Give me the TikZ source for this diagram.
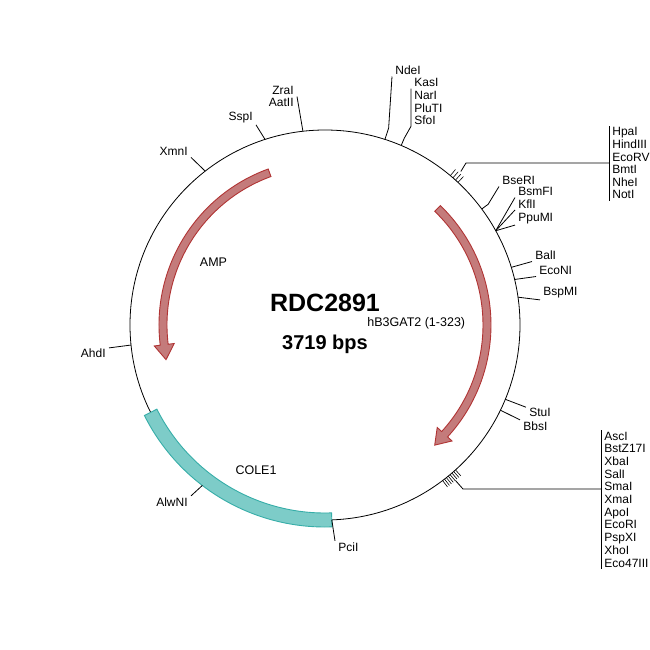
\documentclass[tikz,border=0pt]{standalone}
\usepackage{fontspec}
\setmainfont{Liberation Sans}
\usetikzlibrary{calc,positioning}
\definecolor{featfill}{HTML}{C47B7B}
\definecolor{featline}{HTML}{B03434}
\definecolor{orifill}{HTML}{7DCCC8}
\definecolor{oriline}{HTML}{36ADA8}
\newcommand\sitefont{\fontsize{12}{12.6}\selectfont}
\newcommand\featfont{\fontsize{12.5}{14}\selectfont}
\begin{document}
\begin{tikzpicture}[x=1pt,y=1pt,line width=0.8pt,
	site/.style={font=\sitefont,inner xsep=3pt,inner ysep=1pt},
	feat/.style={font=\featfont,inner sep=0pt},
	featarrow/.style={draw=featline,fill=featfill,line width=0.9pt,line join=miter},
	oriband/.style={draw=oriline,fill=orifill,line width=0.9pt}]
	\useasboundingbox (-325,-325) rectangle (325,325);
	\draw (0,0) circle (195);
	% features
	\draw[featarrow] (110:166) arc[start angle=110,end angle=187,radius=166] -- (187:172)
		-- (192.3:162.7) -- (187:152) -- (187:158) arc[start angle=187,end angle=110,radius=158] -- cycle;
	\draw[featarrow] (46:166) arc[start angle=46,end angle=-42.4,radius=166] -- (-42.4:172)
		-- (-47.6:162.7) -- (-42.4:152) -- (-42.4:158) arc[start angle=-42.4,end angle=46,radius=158] -- cycle;
	\draw[oriband] (206.6:202) arc[start angle=206.6,end angle=272,radius=202] -- (272:188)
		arc[start angle=272,end angle=206.6,radius=188] -- cycle;
	\node[feat,anchor=base] (amp) at (-111.5,58) {AMP};
	\node[feat,anchor=base] (cole) at (-69,-149) {COLE1};
	\node[feat,anchor=base west] (gat) at (42,-1.7) {hB3GAT2 (1-323)};
	\node[anchor=base,inner sep=0pt,font=\fontsize{25}{28}\selectfont\bfseries] (name) at (0,13) {RDC2891};
	\node[anchor=base,inner sep=0pt,font=\fontsize{20}{24}\selectfont\bfseries] (size) at (0,-25) {3719 bps};
	% cutting sites
	\coordinate (xmn) at (127.9:195);
	\coordinate (ssp) at (107.9:195);
	\coordinate (zra) at (96.5:195);
	\coordinate (nde) at (72.1:195);
	\coordinate (kas) at (67:195);
	\coordinate (bse) at (36.5:195);
	\coordinate (bsm) at (28.9:195);
	\coordinate (bal) at (17.2:195);
	\coordinate (econ) at (13.5:195);
	\coordinate (bsp) at (8.2:195);
	\coordinate (stu) at (-22.4:195);
	\coordinate (bbs) at (-25.9:195);
	\coordinate (pci) at (-88:195);
	\coordinate (alw) at (232.6:202);
	\coordinate (ahd) at (185.9:195);
	\node[site,anchor=base east] (xmnLbl) at (-134,169) {XmnI};
	\node[site,anchor=base east] (sspLbl) at (-69,204) {SspI};
	\node[site,anchor=base east] (zraLbl) at (-28,230) {ZraI};
	\node[site,anchor=base east] (aatLbl) at (-28,218) {AatII};
	\node[site,anchor=base west] (ndeLbl) at (67,250) {NdeI};
	\foreach \n [count=\i from 0] in {KasI,NarI,PluTI,SfoI}
		\node[site,anchor=base west] (kasLbl\i) at (86,238-12.6*\i) {\n};
	\node[site,anchor=base west] (bseLbl) at (174,140) {BseRI};
	\foreach \n [count=\i from 0] in {BsmFI,KflI,PpuMI}
		\node[site,anchor=base west] (bsmLbl\i) at (190,129-12.6*\i) {\n};
	\node[site,anchor=base west] (balLbl) at (207,65) {BalI};
	\node[site,anchor=base west] (econLbl) at (211,50) {EcoNI};
	\node[site,anchor=base west] (bspLbl) at (215,29) {BspMI};
	\node[site,anchor=base west] (stuLbl) at (201,-92) {StuI};
	\node[site,anchor=base west] (bbsLbl) at (195,-105) {BbsI};
	\node[site,anchor=base west] (pciLbl) at (10,-226) {PciI};
	\node[site,anchor=base east] (alwLbl) at (-134,-181) {AlwNI};
	\node[site,anchor=base east] (ahdLbl) at (-216,-33) {AhdI};
	\foreach \n [count=\i from 0] in {HpaI,HindIII,EcoRV,BmtI,NheI,NotI}
		\node[site,anchor=base west] (hpaLbl\i) at (284,189-12.6*\i) {\n};
	\foreach \n [count=\i from 0] in {AscI,BstZ17I,XbaI,SalI,SmaI,XmaI,ApoI,EcoRI,PspXI,XhoI,Eco47III}
		\node[site,anchor=base west] (ascLbl\i) at (276,-115-12.7*\i) {\n};
	\draw (xmn) -- (xmnLbl.south east);
	\draw (ssp) -- (sspLbl.south east);
	\draw (zra) -- (zraLbl.south east);
	\draw (nde) -- ++(72:12) -- (ndeLbl.south west);
	\draw (kas) -- ++(67:8) -- (kasLbl3.south west) -- (kasLbl0.south west);
	\draw (bse) -- ++(36.5:8) -- (bseLbl.south west);
	\foreach \i in {0,1,2}
		\draw (bsm) -- (bsmLbl\i.south west);
	\draw (bal) -- (balLbl.south west);
	\draw (econ) -- (econLbl.south west);
	\draw (bsp) -- (bspLbl.south west);
	\draw (stu) -- (stuLbl.north west);
	\draw (bbs) -- (bbsLbl.north west);
	\draw (pci) -- (pciLbl.north west);
	\draw (alw) -- (alwLbl.north east);
	\draw (ahd) -- (ahdLbl.north east);
	% site clusters
	\foreach \a in {47,48,49,50}
		\draw[line width=0.6pt] (\a:195) -- (\a:203);
	\coordinate (hpaJoint) at (141,162);
	\draw (48.5:205) -- (hpaJoint) -- (hpaLbl0.west |- hpaJoint);
	\draw (hpaLbl0.north west) -- (hpaLbl5.south west);
	\foreach \a in {-48,-48.7,...,-53}
		\draw[line width=0.6pt] (\a:195) -- (\a:203);
	\coordinate (ascJoint) at (138,-164);
	\draw (-50:203) -- (ascJoint) -- (ascLbl0.west |- ascJoint);
	\draw (ascLbl0.north west) -- (ascLbl10.south west);
\end{tikzpicture}
\end{document}
